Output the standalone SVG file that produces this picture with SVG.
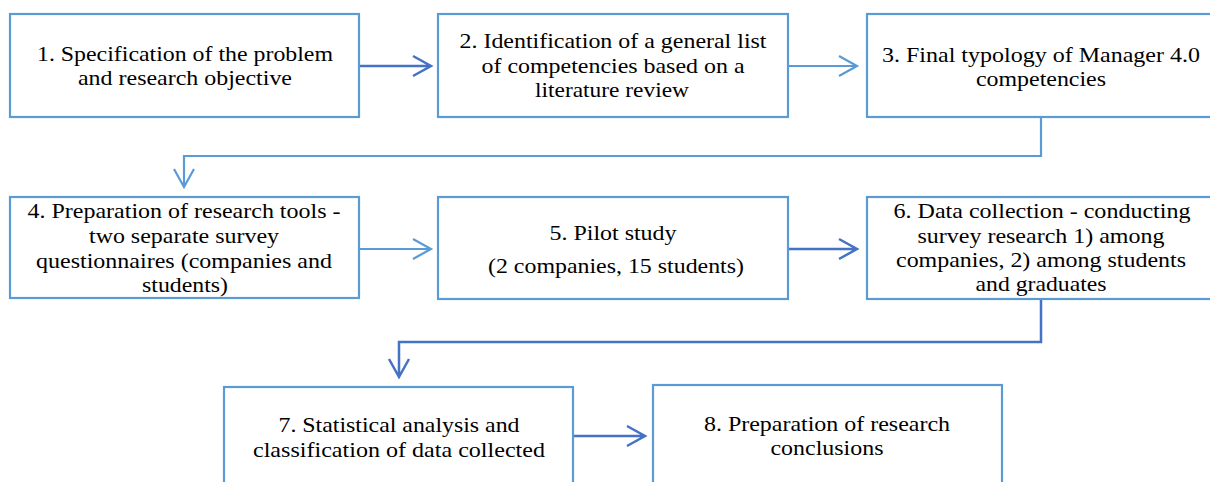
<svg xmlns="http://www.w3.org/2000/svg" width="1210" height="482" viewBox="0 0 1210 482">
<style>
.box{fill:#fff;stroke:#5B9BD5;stroke-width:2.2}
.t{font-family:"Liberation Serif","Times New Roman",serif;font-size:22px;fill:#000;text-anchor:middle}
.cl{fill:none;stroke:#5B9BD5;stroke-width:2.2}
.cd{fill:none;stroke:#4472C4;stroke-width:2.5}
</style>
<rect width="1210" height="482" fill="#fff"/>
<g id="connectors">
<path class="cd" d="M359,66 H431 M413,56 L431,66 L413,76"/>
<path class="cl" d="M788,66 H857 M839,56 L857,66 L839,76"/>
<path class="cl" d="M1041,117 V156 H184 V187 M174,169 L184,187 L194,169"/>
<path class="cl" d="M359,249 H431 M413,239 L431,249 L413,259"/>
<path class="cd" d="M788,249 H857 M839,239 L857,249 L839,259"/>
<path class="cd" d="M1041,299 V342 H399 V377 M389,359 L399,377 L409,359"/>
<path class="cd" d="M573,436 H645 M627,426 L645,436 L627,446"/>
</g>
<g id="n1"><rect class="box" x="10" y="14" width="349" height="103"/>
<text class="t" x="185" y="61" textLength="296" lengthAdjust="spacingAndGlyphs">1. Specification of the problem</text>
<text class="t" x="185" y="85" textLength="214" lengthAdjust="spacingAndGlyphs">and research objective</text></g>
<g id="n2"><rect class="box" x="438" y="14" width="350" height="103"/>
<text class="t" x="613" y="48" textLength="307" lengthAdjust="spacingAndGlyphs">2. Identification of a general list</text>
<text class="t" x="613" y="73" textLength="263" lengthAdjust="spacingAndGlyphs">of competencies based on a</text>
<text class="t" x="612" y="97" textLength="154" lengthAdjust="spacingAndGlyphs">literature review</text></g>
<g id="n3"><rect class="box" x="867" y="14" width="349" height="103"/>
<text class="t" x="1041" y="62" textLength="318" lengthAdjust="spacingAndGlyphs">3. Final typology of Manager 4.0</text>
<text class="t" x="1041" y="86" textLength="130" lengthAdjust="spacingAndGlyphs">competencies</text></g>
<g id="n4"><rect class="box" x="10" y="197" width="349" height="101"/>
<text class="t" x="184" y="218" textLength="313" lengthAdjust="spacingAndGlyphs">4. Preparation of research tools -</text>
<text class="t" x="184" y="243" textLength="190" lengthAdjust="spacingAndGlyphs">two separate survey</text>
<text class="t" x="184" y="268" textLength="296" lengthAdjust="spacingAndGlyphs">questionnaires (companies and</text>
<text class="t" x="185" y="292" textLength="86" lengthAdjust="spacingAndGlyphs">students)</text></g>
<g id="n5"><rect class="box" x="438" y="197" width="350" height="102"/>
<text class="t" x="613" y="240" textLength="127" lengthAdjust="spacingAndGlyphs">5. Pilot study</text>
<text class="t" x="616" y="273" textLength="256" lengthAdjust="spacingAndGlyphs">(2 companies, 15 students)</text></g>
<g id="n6"><rect class="box" x="867" y="197" width="349" height="102"/>
<text class="t" x="1042" y="218" textLength="297" lengthAdjust="spacingAndGlyphs">6. Data collection - conducting</text>
<text class="t" x="1041" y="243" textLength="247" lengthAdjust="spacingAndGlyphs">survey research 1) among</text>
<text class="t" x="1041" y="267" textLength="290" lengthAdjust="spacingAndGlyphs">companies, 2) among students</text>
<text class="t" x="1041" y="291" textLength="131" lengthAdjust="spacingAndGlyphs">and graduates</text></g>
<g id="n7"><rect class="box" x="224" y="387" width="349" height="110"/>
<text class="t" x="399" y="432" textLength="241" lengthAdjust="spacingAndGlyphs">7. Statistical analysis and</text>
<text class="t" x="399" y="457" textLength="292" lengthAdjust="spacingAndGlyphs">classification of data collected</text></g>
<g id="n8"><rect class="box" x="653" y="385" width="349" height="112"/>
<text class="t" x="827" y="431" textLength="246" lengthAdjust="spacingAndGlyphs">8. Preparation of research</text>
<text class="t" x="827" y="455" textLength="113" lengthAdjust="spacingAndGlyphs">conclusions</text></g>
</svg>
